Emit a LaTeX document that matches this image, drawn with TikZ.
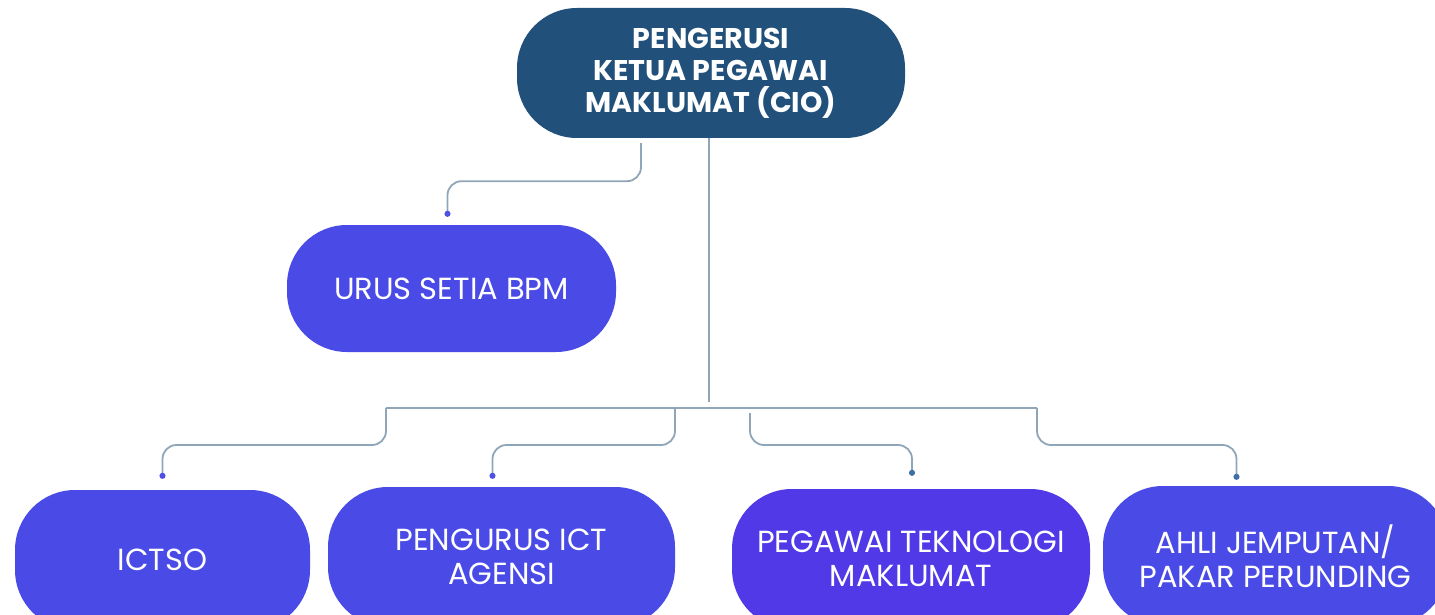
\documentclass[tikz,border=0pt]{standalone}
\usepackage{fontspec}
\setmainfont{Poppins}
\usepackage{tikz}
\usetikzlibrary{positioning,arrows.meta,shapes}
\definecolor{cioblue}{HTML}{21507A}
\definecolor{unitblue}{HTML}{4A4BE6}
\definecolor{ptmviolet}{HTML}{5139E8}
\definecolor{linegray}{HTML}{8FA6B8}
\definecolor{dotblue}{HTML}{4F52E0}
\definecolor{dotsteel}{HTML}{3F6FA8}

\begin{document}
\begin{tikzpicture}[x=1pt,y=-1pt]
	\tikzstyle{headbox}=[rectangle,rounded corners=60pt,fill=cioblue,text=white,align=center,
		font=\bfseries\fontsize{28.5}{32}\selectfont,minimum width=388pt,minimum height=130pt,inner sep=0pt]
	\tikzstyle{unitbox}=[rectangle,rounded corners=60pt,fill=unitblue,text=white,align=center,
		font=\fontsize{30.5}{34}\selectfont,inner sep=0pt]
	\tikzstyle{link}=[draw=linegray,line width=1.8pt,rounded corners=14pt]
	\tikzstyle{tolink}=[link,-{Circle[length=6pt,color=dotblue]}]
	\useasboundingbox (0,0) rectangle (1435,615);

	\node[headbox] (cio) at (711,73) {PENGERUSI\\KETUA PEGAWAI\\MAKLUMAT (CIO)};
	\node[unitbox,minimum width=329pt,minimum height=127pt] (urus) at (451.5,288.5) {URUS SETIA BPM};

	\node[unitbox,minimum width=295pt,minimum height=140pt] (ictso) at (162.5,560) {ICTSO};
	\node[unitbox,minimum width=347pt,minimum height=140pt] (agensi) at (501.5,557) {PENGURUS ICT\\AGENSI};
	\node[unitbox,fill=ptmviolet,minimum width=358pt,minimum height=140pt] (ptm) at (911,559) {PEGAWAI TEKNOLOGI\\MAKLUMAT};
	\node[unitbox,minimum width=345pt,minimum height=140pt] (pakar) at (1275.5,556) {AHLI JEMPUTAN/\\PAKAR PERUNDING};

	\coordinate (busL) at (386,408);
	\coordinate (busR) at (1037,408);

	\draw[tolink] ([xshift=-70pt,yshift=-5pt]cio.south) -- ++(0,38) -| ([xshift=-4pt,yshift=8pt]urus.north);
	\draw[link] ([xshift=-2pt]cio.south) -- ++(0,264);
	\draw[link] (busL) -- (busR);

	\draw[tolink] (busL) -- ++(0,37) -| ([yshift=11pt]ictso.north);
	\draw[tolink] (675,408) -- ++(0,37) -| ([xshift=-9pt,yshift=8pt]agensi.north);
	\draw[tolink,-{Circle[length=6pt,color=dotsteel]}] (750,413) -- ++(0,32) -| ([xshift=1pt,yshift=13pt]ptm.north);
	\draw[tolink,-{Circle[length=6pt,color=dotsteel]}] (busR) -- ++(0,37) -| ([xshift=-39pt,yshift=6pt]pakar.north);
\end{tikzpicture}
\end{document}
